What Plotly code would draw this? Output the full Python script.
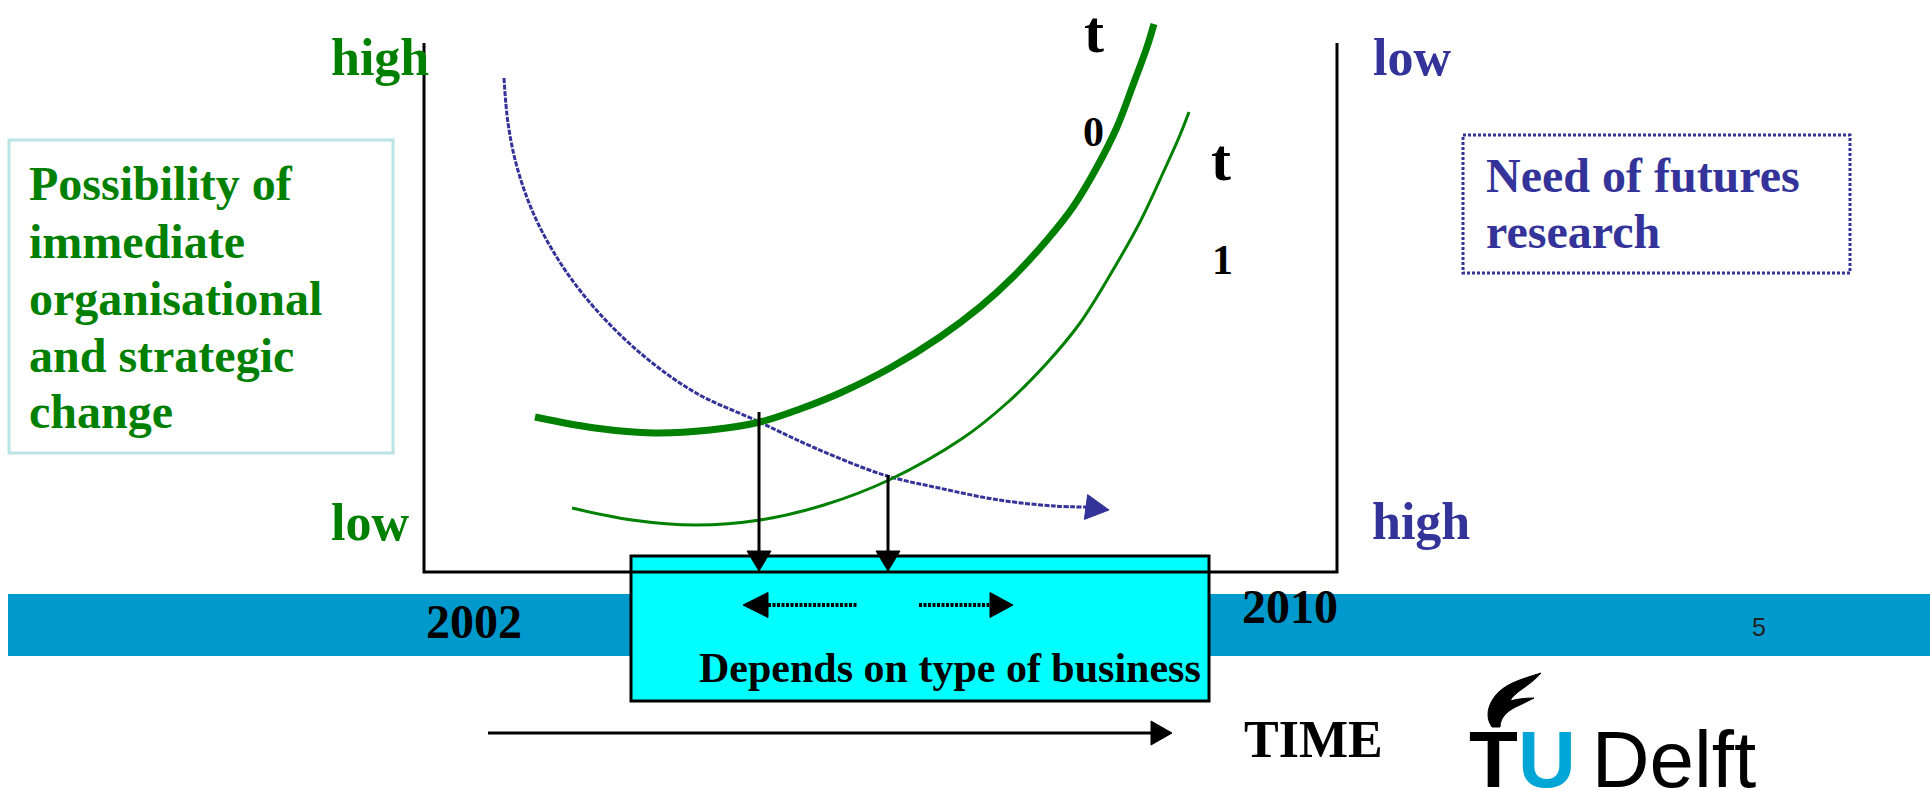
import plotly.graph_objects as go

# ---------------- data (slide pixel coordinates, y grows downward) ----------------
# t0 curve: possibility of immediate change (thick green)
t0_x = [535, 595, 654, 710, 760, 800, 840, 890, 940, 980, 1013, 1047, 1073, 1097, 1117, 1133, 1147, 1154]
t0_y = [417, 428, 433, 430, 422, 409, 393, 368, 337, 307, 277, 240, 207, 167, 127, 85, 47, 24]
# t1 curve (thin green)
t1_x = [572, 632, 696, 760, 824, 889, 963, 1007, 1047, 1080, 1113, 1140, 1163, 1180, 1189]
t1_y = [508, 520, 525, 520, 505, 480, 438, 403, 363, 323, 270, 222, 173, 135, 112]
# need of futures research (blue dotted)
need_x = [504, 508, 517, 535, 563, 599, 645, 696, 755, 815, 884, 939, 999, 1054, 1086]
need_y = [78, 123, 167, 217, 267, 313, 357, 393, 420, 448, 475, 488, 500, 506, 507]
need_tip = (1109, 510)

# intersection drop arrows (x, top y)
drop_x = [759, 888]
drop_top = [412, 475]

left_lines = ["Possibility of", "immediate", "organisational", "and strategic", "change"]
left_base = [200, 258, 315, 372, 428]
right_lines = ["Need of futures", "research"]
right_base = [192, 248]
years = ["2002", "2010"]

GREEN = "#008000"
BLUE = "#333399"
SERIF = "Liberation Serif, Times New Roman, serif"
SANS = "Liberation Sans, Arial, sans-serif"

fig = go.Figure()


def head(tip, base, half):
    tx, ty = tip
    bx, by = base
    dx, dy = tx - bx, ty - by
    L = (dx * dx + dy * dy) ** 0.5
    nx, ny = -dy / L * half, dx / L * half
    return [bx + nx, tx, bx - nx, bx + nx], [by + ny, ty, by - ny, by + ny]


def add_head(tip, base, half, color):
    hx, hy = head(tip, base, half)
    fig.add_trace(go.Scatter(x=hx, y=hy, mode="lines", fill="toself", fillcolor=color,
                             line=dict(color=color, width=1), hoverinfo="skip", showlegend=False))


# ---------------- shapes ----------------
shapes = []
shapes.append(dict(type="rect", x0=8, x1=1930, y0=594, y1=656, fillcolor="#0099CC",
                   line=dict(width=0), layer="below"))
shapes.append(dict(type="rect", x0=631, x1=1209, y0=556, y1=701, fillcolor="#00FFFF",
                   line=dict(color="black", width=3), layer="below"))
shapes.append(dict(type="path", path="M 424 43 L 424 572 L 1337 572 L 1337 43",
                   line=dict(color="black", width=3), layer="below"))
shapes.append(dict(type="rect", x0=9, x1=393, y0=140, y1=453,
                   line=dict(color="#BCE3E6", width=3), layer="below"))
shapes.append(dict(type="rect", x0=1463, x1=1850, y0=135, y1=273,
                   line=dict(color=BLUE, width=3, dash="3px,2px"), layer="below"))
# TU Delft flame
shapes.append(dict(type="path",
                   path=("M 1541 673 C 1522 679, 1502 684, 1493 699 C 1486 710, 1487 720, 1492 727 "
                         "L 1500 727 C 1500 717, 1508 710, 1520 705 L 1534 698 "
                         "C 1525 698, 1517 699, 1510 701 C 1514 692, 1530 686, 1541 673 Z"),
                   fillcolor="black", line=dict(color="black", width=1), layer="above"))

# ---------------- curves ----------------
fig.add_trace(go.Scatter(x=need_x, y=need_y, mode="lines",
                         line=dict(color=BLUE, width=3, dash="5px,1.5px", shape="spline"),
                         hoverinfo="skip", showlegend=False))
add_head(need_tip, (need_x[-1], need_y[-1]), 12.5, BLUE)
fig.add_trace(go.Scatter(x=t0_x, y=t0_y, mode="lines", line=dict(color=GREEN, width=7, shape="spline"),
                         hoverinfo="skip", showlegend=False))
fig.add_trace(go.Scatter(x=t1_x, y=t1_y, mode="lines", line=dict(color=GREEN, width=3, shape="spline"),
                         hoverinfo="skip", showlegend=False))

# drop arrows
for dx, dt in zip(drop_x, drop_top):
    fig.add_trace(go.Scatter(x=[dx, dx], y=[dt, 553], mode="lines", line=dict(color="black", width=3),
                             hoverinfo="skip", showlegend=False))
    add_head((dx, 571), (dx, 551), 12, "black")

# dotted arrows inside box
fig.add_trace(go.Scatter(x=[768, 857], y=[605, 605], mode="lines",
                         line=dict(color="black", width=4, dash="3px,1.5px"),
                         hoverinfo="skip", showlegend=False))
add_head((743, 605), (768, 605), 12.5, "black")
fig.add_trace(go.Scatter(x=[919, 990], y=[605, 605], mode="lines",
                         line=dict(color="black", width=4, dash="3px,1.5px"),
                         hoverinfo="skip", showlegend=False))
add_head((1013, 605), (990, 605), 12.5, "black")

# TIME arrow
fig.add_trace(go.Scatter(x=[488, 1153], y=[733, 733], mode="lines", line=dict(color="black", width=3),
                         hoverinfo="skip", showlegend=False))
add_head((1172, 733), (1151, 733), 12, "black")

# ---------------- text ----------------
ann = []


def txt(s, x, base, size, color, xanchor="left", family=SERIF, bold=True, k=0.3375):
    ann.append(dict(x=x, y=base - k * size, text=(f"<b>{s}</b>" if bold else s), showarrow=False,
                    xanchor=xanchor, yanchor="middle", borderpad=0,
                    font=dict(family=family, size=size, color=color)))


txt("high", 330, 75, 52, GREEN)
txt("low", 330, 540, 52, GREEN)
txt("low", 1372, 75, 52, BLUE)
txt("high", 1371, 539, 52, BLUE)
for s, b in zip(left_lines, left_base):
    txt(s, 28, b, 48, GREEN)
for s, b in zip(right_lines, right_base):
    txt(s, 1485, b, 48, BLUE)
txt(years[0], 474, 638, 48, "black", xanchor="center")
txt(years[1], 1290, 623, 48, "black", xanchor="center")
txt("Depends on type of business", 950, 682, 42, "black", xanchor="center")
txt("TIME", 1243, 757, 52, "black")
txt("t", 1094, 52, 60, "black", xanchor="center")
txt("0", 1093, 146.5, 42, "black", xanchor="center")
txt("t", 1221, 180, 60, "black", xanchor="center")
txt("1", 1222, 274, 42, "black", xanchor="center")
txt("5", 1759, 636, 25, "#222222", xanchor="center", family=SANS, bold=False, k=0.3465)
ann.append(dict(x=1468, y=787 - 0.3465 * 80,
                text="<b>T</b><b><span style='color:#00A6D6'>U</span></b>\u2009Delft",
                showarrow=False, xanchor="left", yanchor="middle", borderpad=0,
                font=dict(family=SANS, size=80, color="black")))

fig.update_layout(
    width=1930, height=790, margin=dict(l=0, r=0, t=0, b=0),
    paper_bgcolor="white", plot_bgcolor="white",
    xaxis=dict(range=[0, 1930], visible=False, fixedrange=True),
    yaxis=dict(range=[790, 0], visible=False, fixedrange=True),
    shapes=shapes, annotations=ann, showlegend=False,
)

fig.write_html("out.html", config={"displayModeBar": False})
